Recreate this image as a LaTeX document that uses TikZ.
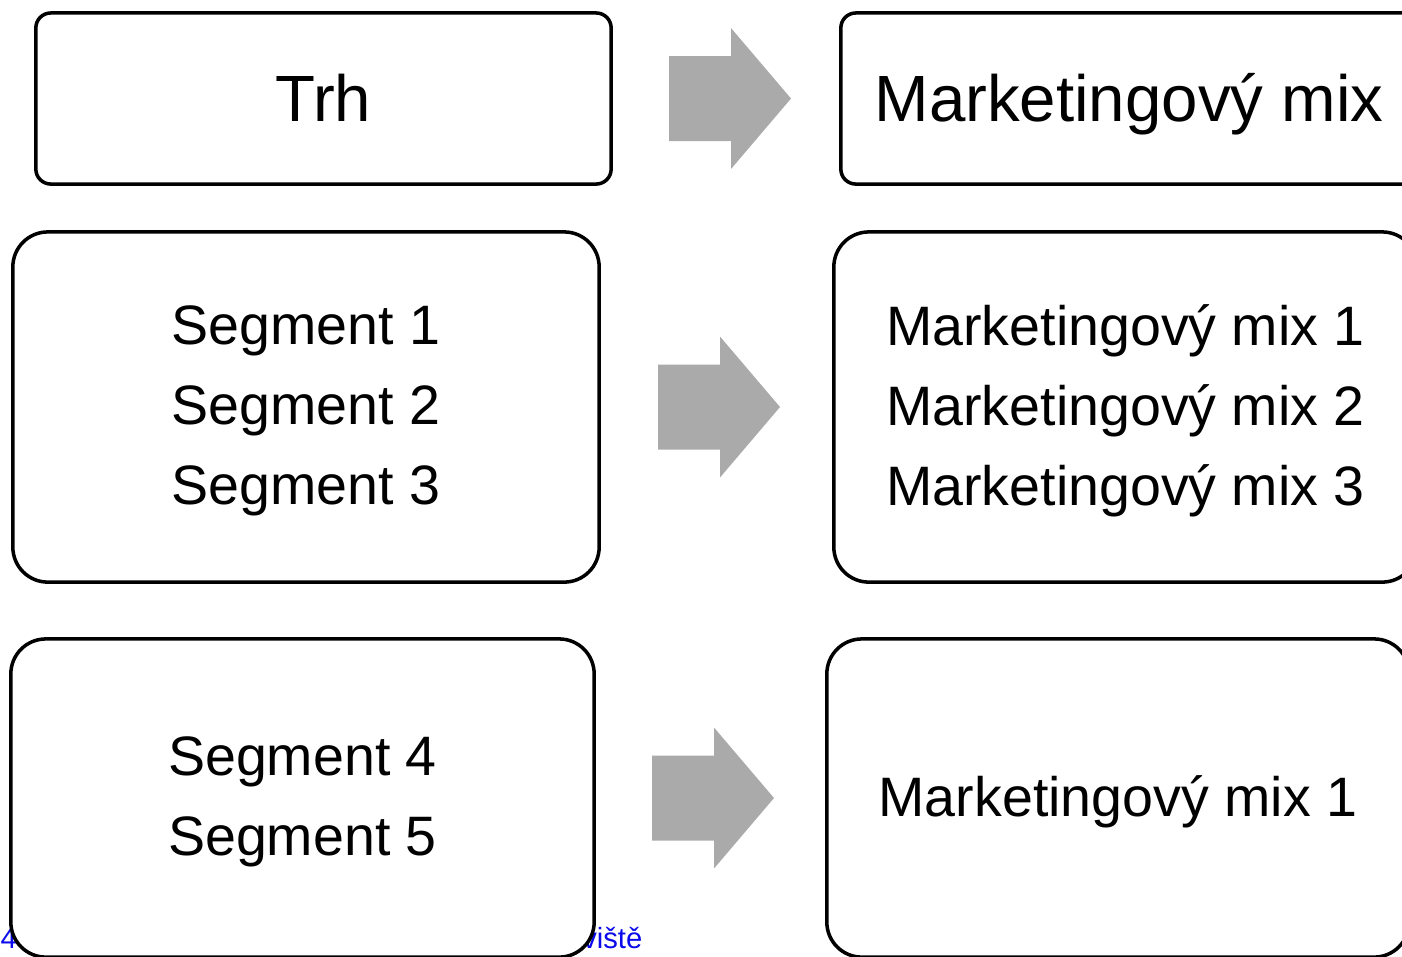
\documentclass[tikz,border=0pt]{standalone}
\usepackage{fontspec}
\setmainfont{Liberation Sans}
\definecolor{arrowgray}{HTML}{AAAAAA}
\definecolor{linkblue}{RGB}{10,10,235}
\newcommand{\grayarrow}[2]{\fill[arrowgray] (#1,#2) ++(0,-42.5) -- ++(62,0) -- ++(0,-28) -- ++(60,70.5) -- ++(-60,70.5) -- ++(0,-28) -- ++(-62,0) -- cycle;}
\begin{document}
\begin{tikzpicture}[x=0.01cm, y=-0.01cm,
    box/.style={draw, fill=white, line width=1pt, inner sep=0pt, align=center},
    small/.style={box, rounded corners=0.15cm, minimum height=1.71cm, text height=0.56cm, text depth=0.1cm, font=\fontsize{18.6}{22}\selectfont},
    big/.style={box, rounded corners=0.35cm},
    bigtext/.style={inner sep=0pt, align=center, font=\fontsize{15.8}{22.8}\selectfont},
    link/.style={text=linkblue, inner sep=0pt, font=\fontsize{8.3}{10}\selectfont}]
       \useasboundingbox (0,0) rectangle (1402,956);
       \clip (0,0) rectangle (1402,956);

       \node[link, anchor=base west] (pagenr) at (0, 948) {4};
       \node[link, anchor=base east] (place) at (643, 948) {viště};

       \node[small, minimum width=5.75cm] (trh) at (323.5, 98.5) {Trh};
       \node[small, minimum width=5.76cm] (mix) at (1129, 98.5) {Marketingový mix};

       \node[big, minimum width=5.86cm, minimum height=3.5cm] (seg) at (306, 407) {};
       \node[bigtext] (segtext) at (306, 411) {Segment 1\\Segment 2\\Segment 3};
       \node[big, minimum width=5.83cm, minimum height=3.5cm] (mixes) at (1125.5, 407) {};
       \node[bigtext] (mixestext) at (1125.5, 411) {Marketingový mix 1\\Marketingový mix 2\\Marketingový mix 3};

       \node[big, minimum width=5.83cm, minimum height=3.18cm] (seglow) at (302.5, 798) {};
       \node[bigtext] (seglowtext) at (302.5, 802) {Segment 4\\Segment 5};
       \node[big, minimum width=5.82cm, minimum height=3.18cm] (mixlow) at (1118, 798) {};
       \node[bigtext] (mixlowtext) at (1118, 802) {Marketingový mix 1};

       \grayarrow{669}{98.5}
       \grayarrow{658}{407}
       \grayarrow{652}{798}
     \end{tikzpicture}
\end{document}
